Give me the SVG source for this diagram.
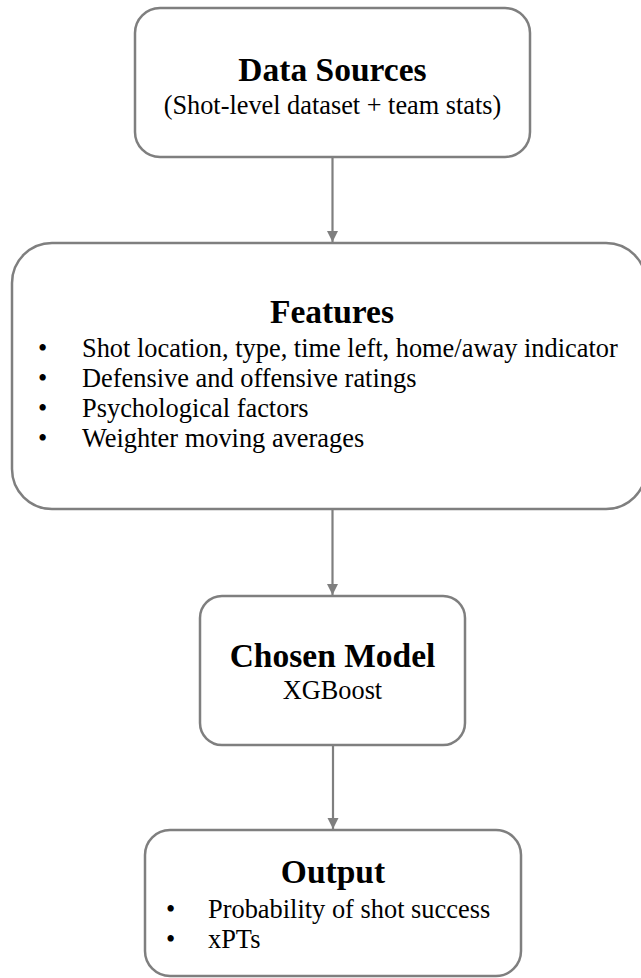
<svg xmlns="http://www.w3.org/2000/svg" width="641" height="978" viewBox="0 0 641 978">
<style>
.box{fill:#ffffff;stroke:#7f7f7f;stroke-width:2.5}
.conn{stroke:#7f7f7f;stroke-width:2.2;fill:none}
text{font-family:"Liberation Serif","Times New Roman",serif;fill:#000}
.t{font-size:33.5px;font-weight:bold;text-anchor:middle}
.s{font-size:26.3px;text-anchor:middle}
.b{font-size:26.4px}
</style>
<defs>
<marker id="ah" markerWidth="12" markerHeight="12" viewBox="0 0 12 12" refX="11" refY="6" orient="auto" markerUnits="userSpaceOnUse">
<path d="M0,0.5 L11,6 L0,11.5 Z" fill="#7f7f7f"/>
</marker>
</defs>
<rect width="641" height="978" fill="#ffffff"/>
<g id="connectors">
<line class="conn" x1="332.5" y1="157" x2="332.5" y2="242" marker-end="url(#ah)"/>
<line class="conn" x1="332.5" y1="509" x2="332.5" y2="595" marker-end="url(#ah)"/>
<line class="conn" x1="333" y1="745" x2="333" y2="829" marker-end="url(#ah)"/>
</g>
<g id="data-sources">
<rect class="box" x="135" y="8" width="395" height="149" rx="25"/>
<text class="t" x="332.5" y="81">Data Sources</text>
<text class="s" x="332.5" y="114">(Shot-level dataset + team stats)</text>
</g>
<g id="features">
<rect class="box" x="12" y="243" width="634" height="266" rx="40"/>
<text class="t" x="332" y="323">Features</text>
<text class="b" x="38" y="357">•</text><text class="b" x="82" y="357">Shot location, type, time left, home/away indicator</text>
<text class="b" x="38" y="387">•</text><text class="b" x="82" y="387">Defensive and offensive ratings</text>
<text class="b" x="38" y="417">•</text><text class="b" x="82" y="417">Psychological factors</text>
<text class="b" x="38" y="447">•</text><text class="b" x="82" y="447">Weighter moving averages</text>
</g>
<g id="chosen-model">
<rect class="box" x="200" y="596" width="265" height="149" rx="22"/>
<text class="t" x="332.5" y="667">Chosen Model</text>
<text class="s" x="332.5" y="699">XGBoost</text>
</g>
<g id="output">
<rect class="box" x="145" y="830" width="376" height="146" rx="25"/>
<text class="t" x="333" y="883">Output</text>
<text class="b" x="166" y="918">•</text><text class="b" x="208" y="918">Probability of shot success</text>
<text class="b" x="166" y="948">•</text><text class="b" x="208" y="948">xPTs</text>
</g>
</svg>
